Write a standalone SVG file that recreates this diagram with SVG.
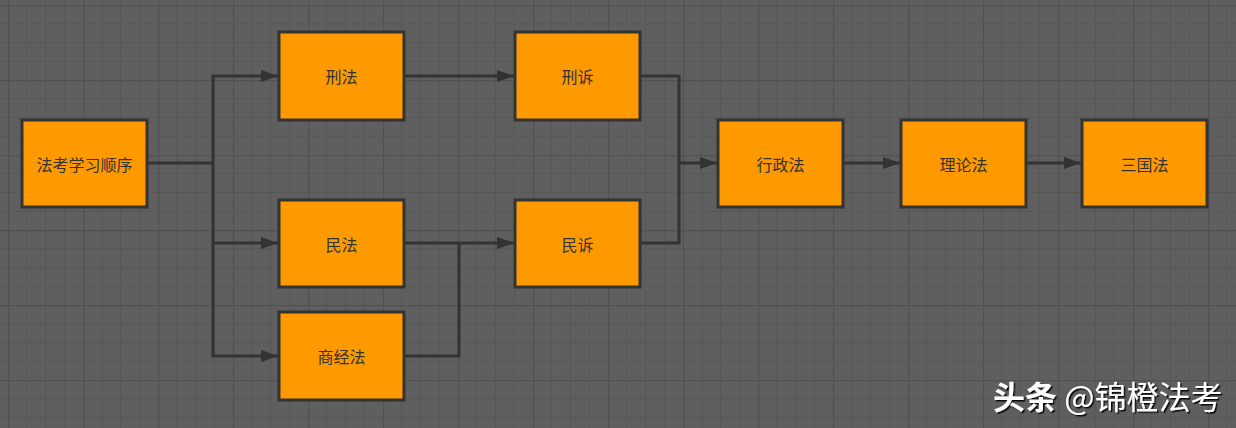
<svg xmlns="http://www.w3.org/2000/svg" width="1236" height="428" viewBox="0 0 1236 428">
  <defs>
    <pattern id="grid" patternUnits="userSpaceOnUse" x="8" y="5" width="75" height="75">
      <g stroke="#575757" stroke-width="1">
        <line x1="18.75" y1="0" x2="18.75" y2="75"/>
        <line x1="37.5" y1="0" x2="37.5" y2="75"/>
        <line x1="56.25" y1="0" x2="56.25" y2="75"/>
        <line x1="0" y1="18.75" x2="75" y2="18.75"/>
        <line x1="0" y1="37.5" x2="75" y2="37.5"/>
        <line x1="0" y1="56.25" x2="75" y2="56.25"/>
      </g>
      <g stroke="#515151" stroke-width="1.5">
        <line x1="0.5" y1="0" x2="0.5" y2="75"/>
        <line x1="0" y1="0.5" x2="75" y2="0.5"/>
      </g>
    </pattern>
    <marker id="arrow" markerUnits="userSpaceOnUse" markerWidth="18" markerHeight="12" refX="17" refY="6" orient="auto">
      <path d="M0,0 L17,6 L0,12 Z" fill="#333333"/>
    </marker>
    <filter id="shadow" x="-5%" y="-20%" width="110%" height="140%">
      <feDropShadow dx="1.5" dy="1.5" stdDeviation="0.6" flood-color="#000000" flood-opacity="0.9"/>
    </filter>
  </defs>
  <style>
    .node rect { fill: #ff9900; stroke: #333333; stroke-width: 3; }
    .node text { font-family: "Noto Sans CJK SC", "Noto Sans", sans-serif; font-size: 16px; fill: #333333; text-anchor: middle; dominant-baseline: central; }
    .edge { fill: none; stroke: #333333; stroke-width: 3; }
    .wm { font-family: "Noto Sans CJK SC", sans-serif; font-size: 32px; fill: #ffffff; }
  </style>
  <rect x="0" y="0" width="1236" height="428" fill="#5f5f5f"/>
  <rect x="0" y="0" width="1236" height="428" fill="url(#grid)"/>

  <g id="connectors">
    <polyline class="edge" points="147,163 213,163"/>
    <polyline class="edge" points="213,163 213,76 278,76" marker-end="url(#arrow)"/>
    <polyline class="edge" points="213,163 213,243 278,243" marker-end="url(#arrow)"/>
    <polyline class="edge" points="213,243 213,356 278,356" marker-end="url(#arrow)"/>
    <polyline class="edge" points="404,76 514,76" marker-end="url(#arrow)"/>
    <polyline class="edge" points="404,243 514,243" marker-end="url(#arrow)"/>
    <polyline class="edge" points="404,356 459,356 459,243"/>
    <polyline class="edge" points="640,76 679,76 679,243 640,243"/>
    <polyline class="edge" points="679,163 717,163" marker-end="url(#arrow)"/>
    <polyline class="edge" points="843,163 900,163" marker-end="url(#arrow)"/>
    <polyline class="edge" points="1026,163 1081,163" marker-end="url(#arrow)"/>
  </g>

  <g id="n-start" class="node"><rect x="22" y="120" width="125" height="87"/><text x="84.5" y="163.5">法考学习顺序</text></g>
  <g id="n-xingfa" class="node"><rect x="279" y="32" width="125" height="88"/><text x="341.5" y="76">刑法</text></g>
  <g id="n-xingsu" class="node"><rect x="515" y="32" width="125" height="88"/><text x="577.5" y="76">刑诉</text></g>
  <g id="n-minfa" class="node"><rect x="279" y="200" width="125" height="87"/><text x="341.5" y="243.5">民法</text></g>
  <g id="n-minsu" class="node"><rect x="515" y="200" width="125" height="87"/><text x="577.5" y="243.5">民诉</text></g>
  <g id="n-shangjing" class="node"><rect x="279" y="312" width="125" height="88"/><text x="341.5" y="356">商经法</text></g>
  <g id="n-xingzheng" class="node"><rect x="718" y="120" width="125" height="87"/><text x="780.5" y="163.5">行政法</text></g>
  <g id="n-lilun" class="node"><rect x="901" y="120" width="125" height="87"/><text x="963.5" y="163.5">理论法</text></g>
  <g id="n-sanguo" class="node"><rect x="1082" y="120" width="125" height="87"/><text x="1144.5" y="163.5">三国法</text></g>

  <text class="wm" x="993" y="409" filter="url(#shadow)"><tspan font-weight="bold">头条</tspan> @锦橙法考</text>
</svg>
